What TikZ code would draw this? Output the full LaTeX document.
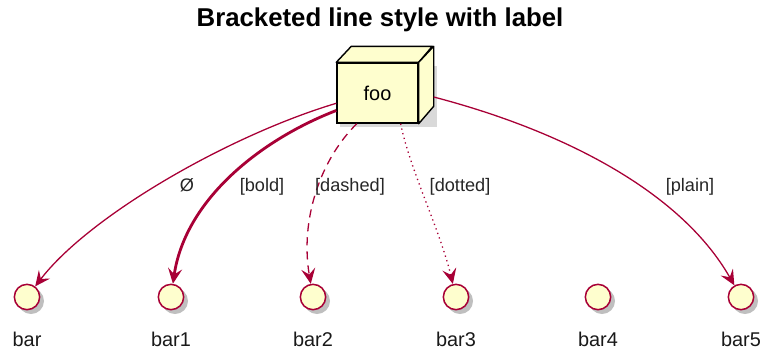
\documentclass[tikz,border=0pt]{standalone}
\usepackage{fontspec}
\setmainfont{Liberation Sans}
\usepackage[dvipsnames]{xcolor}
\usetikzlibrary{arrows.meta,calc}
\definecolor{umlred}{HTML}{A80036}
\definecolor{umlfill}{HTML}{FEFECE}

\begin{document}
\begin{tikzpicture}[x=0.03cm, y=-0.03cm,
    iface/.style={circle, draw=umlred, fill=umlfill, line width=1.3pt, minimum size=0.76cm, inner sep=0pt},
    ifacename/.style={font=\fontsize{17}{20}\selectfont, text=black!90},
    link/.style={umlred, line width=1.1pt, -{Stealth[length=13pt, width=12pt, inset=5pt]}},
    linklabel/.style={font=\fontsize{15.5}{18}\selectfont, text=black!85}]
    \useasboundingbox (0,0) rectangle (766,354);
    % Title
    \node[font=\bfseries\fontsize{22}{25}\selectfont] (title) at (380,20) {Bracketed line style with label};
    % Interfaces
    \foreach \n/\x in {bar/27, bar1/171, bar2/313, bar3/456, bar4/598, bar5/741} {
        \fill[black!25] (\x+4,301) circle (13);
        \node[iface] (\n) at (\x,297) {};
        \node[ifacename] (\n-name) at (\x,339) {\n};
    }
    % Node foo as a box
    \fill[black!15] (340,66) rectangle (437,127);
    \node[draw, fill=umlfill, line width=1.2pt, minimum width=2.43cm, minimum height=1.8cm,
          font=\fontsize{17}{20}\selectfont] (foo) at (377.5,93) {foo};
    \draw[fill=umlfill, line width=1.2pt, line join=round] (foo.north west) -- ++(15,-16) -- ++(81,0) -- (foo.north east) -- cycle;
    \draw[fill=umlfill, line width=1.2pt, line join=round] (foo.north east) -- ++(15,-16) -- ++(0,60) -- (foo.south east) -- cycle;
    \coordinate (fooside) at ($(foo.east)+(15,4)$);
    % Links
    \draw[link] (foo.194) .. controls (230,135) and (90,215) .. (bar);
    \node[linklabel] (lbl0) at (187,185) {Ø};
    \draw[link, line width=2.4pt] (foo.203) .. controls (260,140) and (185,200) .. (bar1);
    \node[linklabel] (lbl1) at (262,187) {[bold]};
    \draw[link, dashed, dash pattern=on 7pt off 5pt] (foo.236) .. controls (320,160) and (300,220) .. (bar2);
    \node[linklabel] (lbl2) at (350,187) {[dashed]};
    \draw[link, dash pattern=on 1.1pt off 3pt] (foo.307) .. controls (410,170) and (440,230) .. (bar3);
    \node[linklabel] (lbl3) at (460,187) {[dotted]};
    \draw[link] (fooside) .. controls (560,130) and (680,190) .. (bar5);
    \node[linklabel] (lbl5) at (690,187) {[plain]};
\end{tikzpicture}
\end{document}
